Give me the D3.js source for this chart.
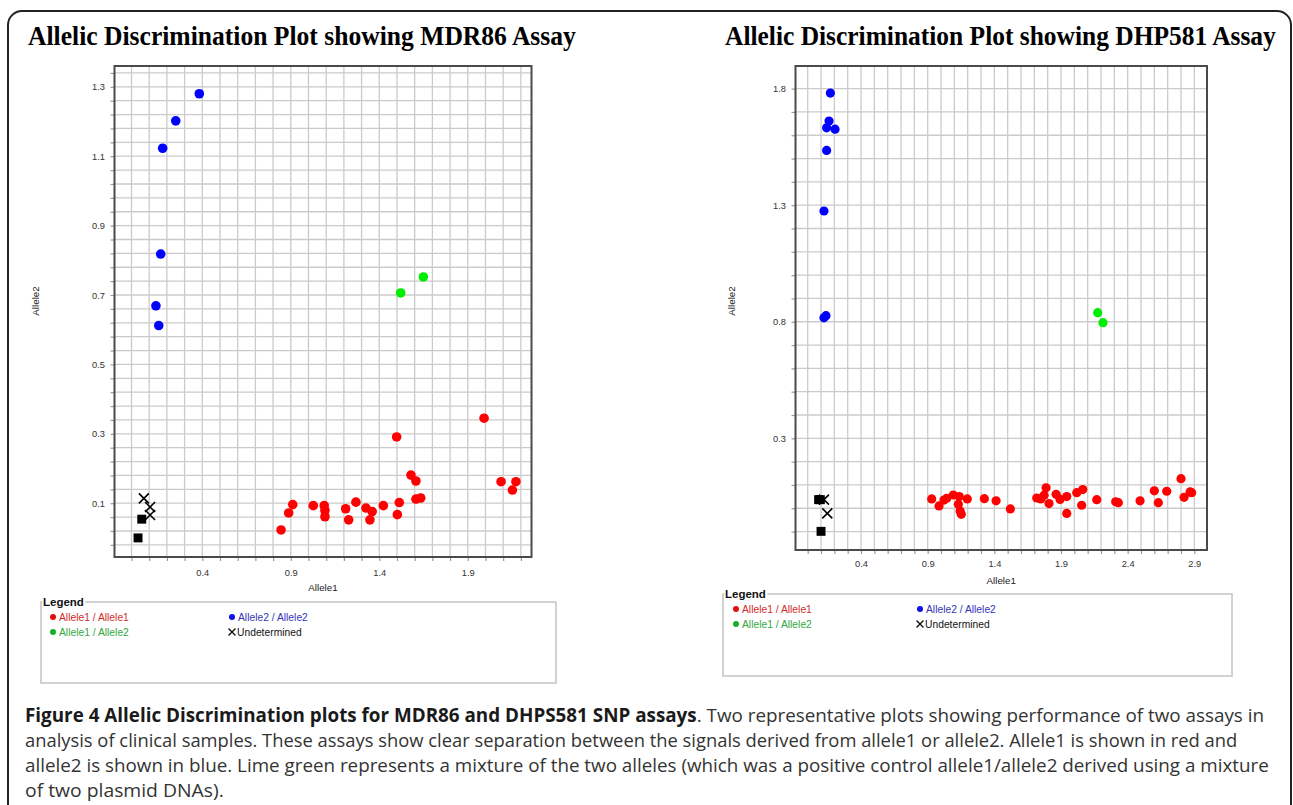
<!DOCTYPE html>
<html><head><meta charset="utf-8">
<script src="https://cdn.jsdelivr.net/npm/d3@7"></script>
<style>body{margin:0;background:#fff}svg{display:block}</style>
</head><body>
<svg id="c" width="1293" height="805"></svg>
<script>
// ---------------- DATA ----------------
const mdrTitle = "Allelic Discrimination Plot showing MDR86 Assay";
const dhpTitle = "Allelic Discrimination Plot showing DHP581 Assay";
const xAxisTitle = "Allele1";
const yAxisTitle = "Allele2";
const legendTitle = "Legend";
const legendLabels = ["Allele1 / Allele1", "Allele1 / Allele2", "Allele2 / Allele2", "Undetermined"];

const mdrXTicks = [0.4, 0.9, 1.4, 1.9];
const mdrYTicks = [0.1, 0.3, 0.5, 0.7, 0.9, 1.1, 1.3];
const dhpXTicks = [0.4, 0.9, 1.4, 1.9, 2.4, 2.9];
const dhpYTicks = [0.3, 0.8, 1.3, 1.8];

// MDR86 assay [Allele1, Allele2]
const mdrAllele1Homo = [
  [0.845, 0.023], [0.888, 0.072], [0.911, 0.096], [1.027, 0.093], [1.089, 0.093],
  [1.093, 0.079], [1.093, 0.061], [1.210, 0.084], [1.227, 0.052], [1.268, 0.103],
  [1.325, 0.086], [1.360, 0.076], [1.347, 0.052], [1.423, 0.093], [1.498, 0.291],
  [1.502, 0.067], [1.513, 0.102], [1.579, 0.181], [1.607, 0.164], [1.607, 0.112],
  [1.634, 0.115], [1.992, 0.345], [2.088, 0.162], [2.152, 0.138], [2.172, 0.162]
];
const mdrAllele2Homo = [
  [0.383, 1.280], [0.250, 1.202], [0.176, 1.123], [0.165, 0.818], [0.138, 0.669], [0.154, 0.612]
];
const mdrHetero = [[1.521, 0.706], [1.649, 0.752]];
const mdrUndetermined = [[0.070, 0.114], [0.105, 0.089], [0.105, 0.066]];
const mdrNoTemplate = [[0.058, 0.054], [0.037, 0.000]];

// DHPS581 assay [Allele1, Allele2]
const dhpAllele1Homo = [
  [0.930, 0.040], [0.985, 0.010], [1.022, 0.035], [1.043, 0.043], [1.092, 0.057],
  [1.137, 0.050], [1.130, 0.017], [1.143, -0.012], [1.152, -0.026], [1.197, 0.040],
  [1.325, 0.041], [1.413, 0.032], [1.520, -0.003], [1.718, 0.044], [1.748, 0.040],
  [1.773, 0.056], [1.788, 0.088], [1.810, 0.020], [1.863, 0.060], [1.893, 0.038],
  [1.943, 0.050], [1.943, -0.022], [2.018, 0.067], [2.063, 0.080], [2.055, 0.013],
  [2.168, 0.037], [2.310, 0.028], [2.330, 0.024], [2.493, 0.032], [2.600, 0.075],
  [2.630, 0.024], [2.693, 0.073], [2.800, 0.127], [2.823, 0.047], [2.868, 0.070],
  [2.880, 0.067]
];
const dhpAllele2Homo = [
  [0.170, 1.781], [0.160, 1.661], [0.142, 1.632], [0.205, 1.626], [0.142, 1.535],
  [0.122, 1.275], [0.122, 0.817], [0.137, 0.826]
];
const dhpHetero = [[2.175, 0.839], [2.215, 0.796]];
const dhpUndetermined = [[0.122, 0.037], [0.147, -0.022]];
const dhpNoTemplate = [[0.082, 0.037], [0.095, 0.037], [0.100, -0.099]];

const captionBold = "Figure 4 Allelic Discrimination plots for MDR86 and DHPS581 SNP assays";
const captionLines = [
  ". Two representative plots showing performance of two assays in",
  "analysis of clinical samples. These assays show clear separation between the signals derived from allele1 or allele2. Allele1 is shown in red and",
  "allele2 is shown in blue. Lime green represents a mixture of the two alleles (which was a positive control allele1/allele2 derived using a mixture",
  "of two plasmid DNAs)."
];

// ---------------- STYLE ----------------
const COL = {red: "#ff0000", blue: "#0000ff", green: "#00ee00"};
const LEGDOT = {red: "#e01010", blue: "#1010e0", green: "#16b02a"};
const LEGCOL = {red: "#d42a2a", blue: "#3535b5", green: "#2fa83f", black: "#111"};
const SANS = "'Liberation Sans', Arial, sans-serif";

const svg = d3.select("#c");

// outer rounded border
svg.append("rect").attr("x", 8).attr("y", 11).attr("width", 1283).attr("height", 900)
  .attr("rx", 14).attr("fill", "none").attr("stroke", "#222").attr("stroke-width", 2);

function drawTitle(text, x, w, base) {
  const t = svg.append("text").attr("font-family", "'Liberation Serif', 'Times New Roman', serif")
    .attr("font-weight", "bold").attr("font-size", 27).attr("fill", "#000").text(text);
  const s = w / t.node().getComputedTextLength();
  t.attr("transform", `translate(${x},${base}) scale(${s},1)`);
}
drawTitle(mdrTitle, 28, 548, 45);
drawTitle(dhpTitle, 725, 551, 45);

function drawPlot(cfg) {
  const g = svg.append("g");
  const x = d3.scaleLinear().domain(cfg.xDomain).range([cfg.left, cfg.right]);
  const y = d3.scaleLinear().domain(cfg.yDomain).range([cfg.bottom, cfg.top]);
  const xGrid = d3.range(cfg.xGrid[0], cfg.xGrid[1] + 1e-9, cfg.xGrid[2]);
  const yGrid = d3.range(cfg.yGrid[0], cfg.yGrid[1] + 1e-9, cfg.yGrid[2]);
  const isLabel = (list) => (v) => list.some(t => Math.abs(t - v) < 1e-6) ? d3.format(".1f")(v) : "";

  // grid
  g.append("g").selectAll("line").data(xGrid).join("line")
    .attr("x1", d => x(d)).attr("x2", d => x(d)).attr("y1", cfg.top).attr("y2", cfg.bottom)
    .attr("stroke", "#cbcbcb").attr("stroke-width", 1.3);
  g.append("g").selectAll("line").data(yGrid).join("line")
    .attr("y1", d => y(d)).attr("y2", d => y(d)).attr("x1", cfg.left).attr("x2", cfg.right)
    .attr("stroke", "#cbcbcb").attr("stroke-width", 1.3);

  // axes
  const xa = g.append("g").attr("transform", `translate(0,${cfg.bottom})`)
    .call(d3.axisBottom(x).tickValues(xGrid).tickSize(4).tickPadding(cfg.xPad).tickFormat(isLabel(cfg.xTicks)));
  const ya = g.append("g").attr("transform", `translate(${cfg.left},0)`)
    .call(d3.axisLeft(y).tickValues(yGrid).tickSize(4).tickPadding(5.5).tickFormat(isLabel(cfg.yTicks)));
  [xa, ya].forEach(a => {
    a.select(".domain").remove();
    a.selectAll(".tick line").attr("stroke", "#9a9a9a").attr("stroke-width", 1.2);
    a.selectAll(".tick text").attr("font-family", SANS).attr("font-size", 9.3).attr("fill", "#333");
  });

  // frame
  g.append("rect").attr("x", cfg.left).attr("y", cfg.top)
    .attr("width", cfg.right - cfg.left).attr("height", cfg.bottom - cfg.top)
    .attr("fill", "none").attr("stroke", "#4a4a4a").attr("stroke-width", 2);

  // axis titles
  g.append("text").attr("x", (cfg.left + cfg.right) / 2).attr("y", cfg.xTitleY)
    .attr("text-anchor", "middle").attr("font-family", SANS).attr("font-size", 9.8).attr("fill", "#222")
    .text(xAxisTitle);
  g.append("text").attr("transform", `translate(${cfg.yTitleX},${cfg.yTitleY}) rotate(-90)`)
    .attr("text-anchor", "middle").attr("font-family", SANS).attr("font-size", 9.8).attr("fill", "#222")
    .text(yAxisTitle);

  // marks
  const dots = (data, color) => g.append("g").selectAll("circle").data(data).join("circle")
    .attr("cx", d => x(d[0])).attr("cy", d => y(d[1])).attr("r", cfg.r).attr("fill", color);
  dots(cfg.homo1, COL.red);
  dots(cfg.hetero, COL.green);
  dots(cfg.homo2, COL.blue);
  g.append("g").selectAll("path").data(cfg.ntc).join("path")
    .attr("d", d3.symbol(d3.symbolSquare, 80)())
    .attr("transform", d => `translate(${x(d[0])},${y(d[1])})`).attr("fill", "#000");
  g.append("g").selectAll("path").data(cfg.und).join("path")
    .attr("d", "M-5,-5L5,5M-5,5L5,-5")
    .attr("transform", d => `translate(${x(d[0])},${y(d[1])})`)
    .attr("stroke", "#000").attr("stroke-width", 1.6).attr("fill", "none");

  // legend
  const L = cfg.legend;
  const lg = svg.append("g").attr("font-family", SANS);
  lg.append("rect").attr("x", L.x).attr("y", L.y).attr("width", L.w).attr("height", L.h)
    .attr("fill", "none").attr("stroke", "#c4c4c4").attr("stroke-width", 1.5);
  const lt = lg.append("text").attr("x", L.x + 2).attr("y", L.y + 4).attr("font-size", 11.5)
    .attr("font-weight", "bold").attr("fill", "#111").text(legendTitle);
  const bb = lt.node().getBBox();
  lg.insert("rect", "text").attr("x", bb.x - 0.5).attr("y", L.y - 3).attr("width", bb.width + 2).attr("height", 6)
    .attr("fill", "#fff");
  const entries = [
    {label: legendLabels[0], c: "red", col: 0, row: 0},
    {label: legendLabels[1], c: "green", col: 0, row: 1},
    {label: legendLabels[2], c: "blue", col: 1, row: 0},
    {label: legendLabels[3], c: "black", col: 1, row: 1, cross: true}
  ];
  entries.forEach(e => {
    const ex = L.x + L.colX[e.col], ey = L.y + L.rowY[e.row];
    if (e.cross) {
      lg.append("path").attr("d", "M-3.5,-3.5L3.5,3.5M-3.5,3.5L3.5,-3.5")
        .attr("transform", `translate(${ex + 1},${ey})`).attr("stroke", "#111").attr("stroke-width", 1.4);
      lg.append("text").attr("x", ex + 6).attr("y", ey + 3.6).attr("font-size", 10.3).attr("fill", LEGCOL.black).text(e.label);
    } else {
      lg.append("circle").attr("cx", ex + 1).attr("cy", ey).attr("r", 3).attr("fill", LEGDOT[e.c]);
      lg.append("text").attr("x", ex + 7).attr("y", ey + 3.6).attr("font-size", 10.3).attr("fill", LEGCOL[e.c]).text(e.label);
    }
  });
}

drawPlot({
  left: 114.5, right: 531.5, top: 66, bottom: 557,
  xDomain: [-0.096, 2.26], yDomain: [-0.055, 1.36],
  xGrid: [0, 2.2, 0.1], yGrid: [-0.02, 1.34, 0.04],
  xTicks: mdrXTicks, yTicks: mdrYTicks, xPad: 8.5,
  xTitleY: 591, yTitleX: 39, yTitleY: 301, r: 4.8,
  homo1: mdrAllele1Homo, homo2: mdrAllele2Homo, hetero: mdrHetero,
  und: mdrUndetermined, ntc: mdrNoTemplate,
  legend: {x: 41, y: 602, w: 515, h: 81, colX: [11, 190], rowY: [15, 30]}
});

drawPlot({
  left: 795.5, right: 1207, top: 66, bottom: 550,
  xDomain: [-0.0915, 2.995], yDomain: [-0.179, 1.897],
  xGrid: [0, 2.9, 0.1], yGrid: [-0.1, 1.8, 0.1],
  xTicks: dhpXTicks, yTicks: dhpYTicks, xPad: 6.5,
  xTitleY: 584, yTitleX: 735, yTitleY: 301, r: 4.6,
  homo1: dhpAllele1Homo, homo2: dhpAllele2Homo, hetero: dhpHetero,
  und: dhpUndetermined, ntc: dhpNoTemplate,
  legend: {x: 723, y: 594, w: 509, h: 82, colX: [12, 196], rowY: [15, 30]}
});

// caption
const capTargets = [1240, 1213, 1245, 199];
const capBase = [722, 747, 772, 797];
captionLines.forEach((line, i) => {
  const t = svg.append("text").attr("font-family", "'Open Sans', sans-serif").attr("font-size", 19).attr("fill", "#333");
  if (i === 0) {
    t.append("tspan").attr("font-weight", "bold").attr("fill", "#1a1a1a").text(captionBold);
  }
  t.append("tspan").text(line);
  const w = t.node().getComputedTextLength();
  t.attr("transform", `translate(25,${capBase[i]}) scale(${capTargets[i] / w},1)`);
});
</script>
</body></html>
